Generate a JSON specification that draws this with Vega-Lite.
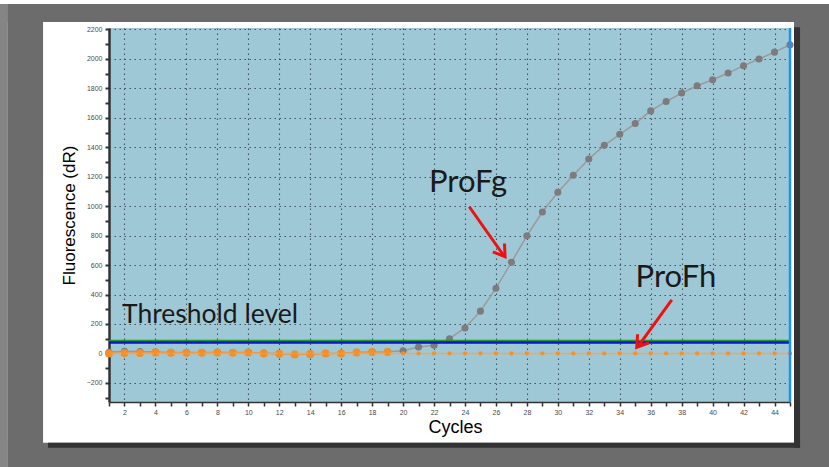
{
  "$schema": "https://vega.github.io/schema/vega-lite/v6.json",
  "width": 681,
  "height": 374,
  "autosize": {"type": "none"},
  "padding": {"left": 109, "top": 28, "right": 39, "bottom": 65},
  "background": "#ffffff",
  "data": {"values": [{"kind": "decoration"}]},
  "config": {
    "view": {"stroke": null, "fill": "#9fc8d7"},
    "axis": {
      "labelFont": "Liberation Sans",
      "labelFontSize": 7,
      "labelColor": "#4a4a4a",
      "titleFont": "Liberation Sans",
      "titleFontWeight": "normal",
      "titleColor": "#000000",
      "domainColor": "#333333",
      "tickColor": "#333333",
      "gridColor": "#3f5560",
      "gridDash": [1.5, 3.5],
      "gridWidth": 1.1
    }
  },
  "datasets": {
    "curves": [
      {"cycle": 1, "value": 8, "series": "ProFg"},
      {"cycle": 2, "value": 14, "series": "ProFg"},
      {"cycle": 3, "value": 13, "series": "ProFg"},
      {"cycle": 4, "value": 9, "series": "ProFg"},
      {"cycle": 5, "value": 7, "series": "ProFg"},
      {"cycle": 6, "value": 6, "series": "ProFg"},
      {"cycle": 7, "value": 6, "series": "ProFg"},
      {"cycle": 8, "value": 7, "series": "ProFg"},
      {"cycle": 9, "value": 6, "series": "ProFg"},
      {"cycle": 10, "value": 7, "series": "ProFg"},
      {"cycle": 11, "value": 2, "series": "ProFg"},
      {"cycle": 12, "value": -2, "series": "ProFg"},
      {"cycle": 13, "value": -6, "series": "ProFg"},
      {"cycle": 14, "value": -4, "series": "ProFg"},
      {"cycle": 15, "value": 0, "series": "ProFg"},
      {"cycle": 16, "value": 1, "series": "ProFg"},
      {"cycle": 17, "value": 7, "series": "ProFg"},
      {"cycle": 18, "value": 10, "series": "ProFg"},
      {"cycle": 19, "value": 11, "series": "ProFg"},
      {"cycle": 20, "value": 18, "series": "ProFg"},
      {"cycle": 21, "value": 43, "series": "ProFg"},
      {"cycle": 22, "value": 55, "series": "ProFg"},
      {"cycle": 23, "value": 100, "series": "ProFg"},
      {"cycle": 24, "value": 173, "series": "ProFg"},
      {"cycle": 25, "value": 287, "series": "ProFg"},
      {"cycle": 26, "value": 442, "series": "ProFg"},
      {"cycle": 27, "value": 619, "series": "ProFg"},
      {"cycle": 28, "value": 799, "series": "ProFg"},
      {"cycle": 29, "value": 960, "series": "ProFg"},
      {"cycle": 30, "value": 1094, "series": "ProFg"},
      {"cycle": 31, "value": 1210, "series": "ProFg"},
      {"cycle": 32, "value": 1320, "series": "ProFg"},
      {"cycle": 33, "value": 1413, "series": "ProFg"},
      {"cycle": 34, "value": 1488, "series": "ProFg"},
      {"cycle": 35, "value": 1561, "series": "ProFg"},
      {"cycle": 36, "value": 1647, "series": "ProFg"},
      {"cycle": 37, "value": 1711, "series": "ProFg"},
      {"cycle": 38, "value": 1768, "series": "ProFg"},
      {"cycle": 39, "value": 1818, "series": "ProFg"},
      {"cycle": 40, "value": 1859, "series": "ProFg"},
      {"cycle": 41, "value": 1904, "series": "ProFg"},
      {"cycle": 42, "value": 1954, "series": "ProFg"},
      {"cycle": 43, "value": 2000, "series": "ProFg"},
      {"cycle": 44, "value": 2046, "series": "ProFg"},
      {"cycle": 45, "value": 2096, "series": "ProFg"},
      {"cycle": 1, "value": 0, "series": "Base"},
      {"cycle": 2, "value": 2, "series": "Base"},
      {"cycle": 3, "value": 3, "series": "Base"},
      {"cycle": 4, "value": 7, "series": "Base"},
      {"cycle": 5, "value": 5, "series": "Base"},
      {"cycle": 6, "value": 5, "series": "Base"},
      {"cycle": 7, "value": 5, "series": "Base"},
      {"cycle": 8, "value": 6, "series": "Base"},
      {"cycle": 9, "value": 5, "series": "Base"},
      {"cycle": 10, "value": 6, "series": "Base"},
      {"cycle": 11, "value": 0, "series": "Base"},
      {"cycle": 12, "value": -3, "series": "Base"},
      {"cycle": 13, "value": -8, "series": "Base"},
      {"cycle": 14, "value": -5, "series": "Base"},
      {"cycle": 15, "value": -1, "series": "Base"},
      {"cycle": 16, "value": 0, "series": "Base"},
      {"cycle": 17, "value": 6, "series": "Base"},
      {"cycle": 18, "value": 9, "series": "Base"},
      {"cycle": 19, "value": 9, "series": "Base"},
      {"cycle": 1, "value": 0, "series": "ProFh"},
      {"cycle": 2, "value": 0, "series": "ProFh"},
      {"cycle": 3, "value": 0, "series": "ProFh"},
      {"cycle": 4, "value": 0, "series": "ProFh"},
      {"cycle": 5, "value": 0, "series": "ProFh"},
      {"cycle": 6, "value": 0, "series": "ProFh"},
      {"cycle": 7, "value": 0, "series": "ProFh"},
      {"cycle": 8, "value": 0, "series": "ProFh"},
      {"cycle": 9, "value": 0, "series": "ProFh"},
      {"cycle": 10, "value": 0, "series": "ProFh"},
      {"cycle": 11, "value": 0, "series": "ProFh"},
      {"cycle": 12, "value": 0, "series": "ProFh"},
      {"cycle": 13, "value": 0, "series": "ProFh"},
      {"cycle": 14, "value": 0, "series": "ProFh"},
      {"cycle": 15, "value": 0, "series": "ProFh"},
      {"cycle": 16, "value": 0, "series": "ProFh"},
      {"cycle": 17, "value": 0, "series": "ProFh"},
      {"cycle": 18, "value": 0, "series": "ProFh"},
      {"cycle": 19, "value": 0, "series": "ProFh"},
      {"cycle": 20, "value": 0, "series": "ProFh"},
      {"cycle": 21, "value": 0, "series": "ProFh"},
      {"cycle": 22, "value": 0, "series": "ProFh"},
      {"cycle": 23, "value": 0, "series": "ProFh"},
      {"cycle": 24, "value": 0, "series": "ProFh"},
      {"cycle": 25, "value": 0, "series": "ProFh"},
      {"cycle": 26, "value": 0, "series": "ProFh"},
      {"cycle": 27, "value": 0, "series": "ProFh"},
      {"cycle": 28, "value": 0, "series": "ProFh"},
      {"cycle": 29, "value": 0, "series": "ProFh"},
      {"cycle": 30, "value": 0, "series": "ProFh"},
      {"cycle": 31, "value": 0, "series": "ProFh"},
      {"cycle": 32, "value": 0, "series": "ProFh"},
      {"cycle": 33, "value": 0, "series": "ProFh"},
      {"cycle": 34, "value": 0, "series": "ProFh"},
      {"cycle": 35, "value": 0, "series": "ProFh"},
      {"cycle": 36, "value": 0, "series": "ProFh"},
      {"cycle": 37, "value": 0, "series": "ProFh"},
      {"cycle": 38, "value": 0, "series": "ProFh"},
      {"cycle": 39, "value": 0, "series": "ProFh"},
      {"cycle": 40, "value": 0, "series": "ProFh"},
      {"cycle": 41, "value": 0, "series": "ProFh"},
      {"cycle": 42, "value": 0, "series": "ProFh"},
      {"cycle": 43, "value": 0, "series": "ProFh"},
      {"cycle": 44, "value": 0, "series": "ProFh"},
      {"cycle": 45, "value": 0, "series": "ProFh"}
    ],
    "labels": [
      {"text": "ProFg", "cycle": 24.2, "value": 1096},
      {"text": "ProFh", "cycle": 37.63, "value": 451}
    ],
    "threshold": [
      {"text": "Threshold level", "cycle": 1.84, "value": 206}
    ]
  },
  "encoding": {
    "x": {"type": "quantitative", "scale": {"domain": [1, 45], "nice": false, "zero": false},
      "axis": {
        "zindex": 0,
        "title": "Cycles",
        "titleFontSize": 18,
        "titlePadding": 3,
        "titleX": 346,
        "values": [1,2,3,4,5,6,7,8,9,10,11,12,13,14,15,16,17,18,19,20,21,22,23,24,25,26,27,28,29,30,31,32,33,34,35,36,37,38,39,40,41,42,43,44,45],
        "labelExpr": "datum.value % 2 === 0 ? datum.label : ''",
        "labelOverlap": false,
        "grid": true,
        "gridOpacity": {"condition": {"test": "datum.value % 2 === 0", "value": 1}, "value": 0},
        "tickSize": 4,
        "tickWidth": 1.5,
        "labelPadding": 2,
        "domainWidth": 1.5
      }},
    "y": {"type": "quantitative", "scale": {"domain": [-330, 2210], "nice": false, "zero": false},
      "axis": {
        "zindex": 0,
        "title": "Fluorescence (dR)",
        "titleFontSize": 17,
        "titlePadding": 8,
        "values": [-300,-200,-100,0,100,200,300,400,500,600,700,800,900,1000,1100,1200,1300,1400,1500,1600,1700,1800,1900,2000,2100,2200],
        "labelExpr": "datum.value % 200 === 0 ? datum.label : ''",
        "labelOverlap": false,
        "format": "d",
        "grid": true,
        "gridOpacity": {"condition": {"test": "datum.value % 200 === 0", "value": 1}, "value": 0},
        "tickSize": 4,
        "tickWidth": 2,
        "labelPadding": 3,
        "domainWidth": 2.5
      }}
  },
  "layer": [
    {
      "mark": {"type": "rect", "fill": "#6c6c6c"},
      "encoding": {"x": {"datum": -7}, "x2": {"datum": 50}, "y": {"datum": 2373}, "y2": {"datum": 2251}}
    },
    {
      "mark": {"type": "rect", "fill": "#6c6c6c"},
      "encoding": {"x": {"datum": -5.53}, "x2": {"datum": -3.26}, "y": {"datum": 2373}, "y2": {"datum": -800}}
    },
    {
      "mark": {"type": "rect", "fill": "#858585"},
      "encoding": {"x": {"datum": -7}, "x2": {"datum": -5.53}, "y": {"datum": 2373}, "y2": {"datum": -800}}
    },
    {
      "mark": {"type": "rect", "fill": "#6c6c6c"},
      "encoding": {"x": {"datum": 45.26}, "x2": {"datum": 50}, "y": {"datum": 2373}, "y2": {"datum": -800}}
    },
    {
      "mark": {"type": "rect", "fill": "#6c6c6c"},
      "encoding": {"x": {"datum": -5.53}, "x2": {"datum": 50}, "y": {"datum": -607}, "y2": {"datum": -800}}
    },
    {
      "mark": {"type": "rect", "fill": "#333333"},
      "encoding": {"x": {"datum": 45.26}, "x2": {"datum": 45.65}, "y": {"datum": 2215}, "y2": {"datum": -641}}
    },
    {
      "mark": {"type": "rect", "fill": "#333333"},
      "encoding": {"x": {"datum": -2.94}, "x2": {"datum": 45.65}, "y": {"datum": -607}, "y2": {"datum": -641}}
    },
    {
      "data": {"name": "curves"},
      "transform": [{"filter": "datum.series === 'ProFg'"}],
      "mark": {"type": "line", "color": "#9a9a9a", "strokeWidth": 1.5},
      "encoding": {"x": {"field": "cycle"}, "y": {"field": "value"}}
    },
    {
      "data": {"name": "curves"},
      "transform": [{"filter": "datum.series === 'ProFg'"}],
      "mark": {"type": "point", "filled": true, "color": "#7d7b7b", "size": 50, "opacity": 1},
      "encoding": {"x": {"field": "cycle"}, "y": {"field": "value"}}
    },
    {
      "data": {"name": "curves"},
      "transform": [{"filter": "datum.series === 'Base'"}],
      "mark": {"type": "line", "color": "#e89a55", "strokeWidth": 1.5},
      "encoding": {"x": {"field": "cycle"}, "y": {"field": "value"}}
    },
    {
      "data": {"name": "curves"},
      "transform": [{"filter": "datum.series === 'Base'"}],
      "mark": {"type": "point", "filled": true, "color": "#ef8f2a", "size": 65, "opacity": 1},
      "encoding": {"x": {"field": "cycle"}, "y": {"field": "value"}}
    },
    {
      "data": {"name": "curves"},
      "transform": [{"filter": "datum.series === 'ProFh'"}],
      "mark": {"type": "line", "color": "#f2a552", "strokeWidth": 1.5},
      "encoding": {"x": {"field": "cycle"}, "y": {"field": "value"}}
    },
    {
      "data": {"name": "curves"},
      "transform": [{"filter": "datum.series === 'ProFh'"}],
      "mark": {"type": "point", "filled": true, "color": "#f39228", "size": 18, "opacity": 1},
      "encoding": {"x": {"field": "cycle"}, "y": {"field": "value"}}
    },
    {
      "mark": {"type": "rule", "color": "#1c9a2a", "strokeWidth": 2},
      "encoding": {"x": {"datum": 1}, "x2": {"datum": 45}, "y": {"datum": 86}}
    },
    {
      "mark": {"type": "rule", "color": "#0a14c8", "strokeWidth": 2.5},
      "encoding": {"x": {"datum": 1}, "x2": {"datum": 45}, "y": {"datum": 74}}
    },
    {
      "mark": {"type": "rule", "color": "#1e90ff", "strokeWidth": 2.5},
      "encoding": {"x": {"datum": 45}, "y": {"datum": -330}, "y2": {"datum": 2210}}
    },
    {
      "data": {"name": "threshold"},
      "mark": {"type": "text", "font": "Lato", "fontSize": 26.5, "align": "left", "baseline": "alphabetic", "color": "#1a1a1a"},
      "encoding": {"x": {"field": "cycle"}, "y": {"field": "value"}, "text": {"field": "text"}}
    },
    {
      "data": {"name": "labels"},
      "mark": {"type": "text", "font": "Lato", "fontSize": 31, "align": "center", "baseline": "alphabetic", "color": "#1a1a1a"},
      "encoding": {"x": {"field": "cycle"}, "y": {"field": "value"}, "text": {"field": "text"}}
    },
    {
      "mark": {"type": "rule", "color": "#ee1111", "strokeWidth": 3},
      "encoding": {"x": {"datum": 24.28}, "x2": {"datum": 26.5}, "y": {"datum": 996}, "y2": {"datum": 665}}
    },
    {
      "mark": {"type": "point", "shape": "M-0.55,0.85L0,0L0.55,0.85", "filled": false, "stroke": "#ee1111", "strokeWidth": 3, "size": 676, "angle": 144.6, "opacity": 1},
      "encoding": {"x": {"datum": 26.59}, "y": {"datum": 657}}
    },
    {
      "mark": {"type": "rule", "color": "#ee1111", "strokeWidth": 3},
      "encoding": {"x": {"datum": 37.36}, "x2": {"datum": 35.2}, "y": {"datum": 363}, "y2": {"datum": 50}}
    },
    {
      "mark": {"type": "point", "shape": "M-0.55,0.85L0,0L0.55,0.85", "filled": false, "stroke": "#ee1111", "strokeWidth": 3, "size": 676, "angle": 216.5, "opacity": 1},
      "encoding": {"x": {"datum": 35.1}, "y": {"datum": 41}}
    }
  ]
}
